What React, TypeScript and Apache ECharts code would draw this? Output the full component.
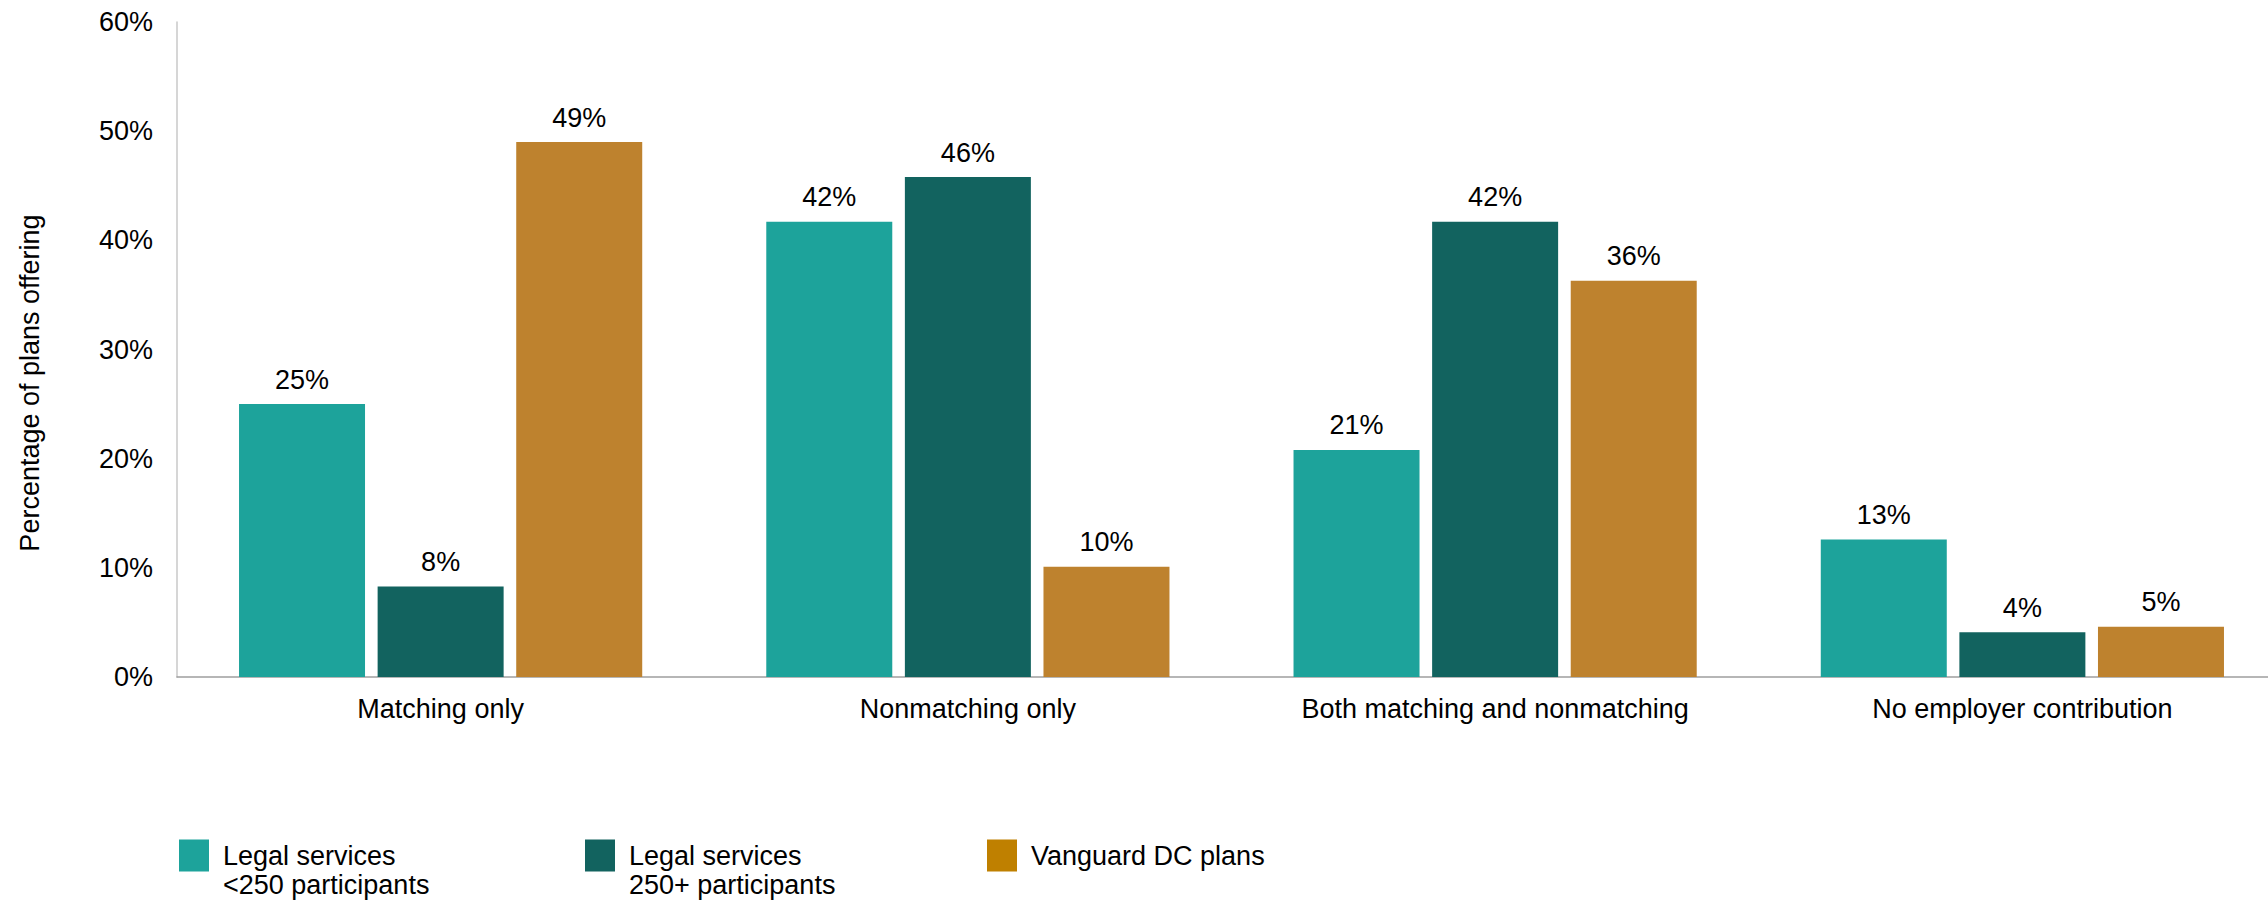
import React, { useEffect, useRef } from "react";
import * as echarts from "echarts";

const categories = [
  "Matching only",
  "Nonmatching only",
  "Both matching and nonmatching",
  "No employer contribution",
];
const seriesNames = [
  "Legal services\n<250 participants",
  "Legal services\n250+ participants",
  "Vanguard DC plans",
];
const smallLegal = [25, 41.7, 20.8, 12.6];
const largeLegal = [8.3, 45.8, 41.7, 4.1];
const vanguard = [49, 10.1, 36.3, 4.6];
const yTicks = { min: 0, max: 60, interval: 10 };
const yAxisTitle = "Percentage of plans offering";

const barColors = ["#1DA39B", "#12635F", "#BE822E"];
const legendColors = ["#1DA39B", "#12635F", "#BF8000"];
const FONT = "'Liberation Sans', Arial, sans-serif";
const FS = 27;

export default function App() {
  const ref = useRef<HTMLDivElement>(null);
  useEffect(() => {
    if (!ref.current) return;
    const chart = echarts.init(ref.current, undefined, { renderer: "svg" });
    const values = [smallLegal, largeLegal, vanguard];
    const legendLeft = [179, 585, 987];
    chart.setOption({
      animation: false,
      textStyle: { fontFamily: FONT, color: "#000" },
      grid: { left: 177, top: 22, width: 2109, bottom: 225 },
      xAxis: {
        type: "category",
        data: categories,
        axisLine: { lineStyle: { color: "#9E9E9E", width: 1.5 } },
        axisTick: { show: false },
        axisLabel: { fontSize: FS, color: "#000", fontFamily: FONT, margin: 18 },
      },
      yAxis: {
        type: "value",
        min: yTicks.min,
        max: yTicks.max,
        interval: yTicks.interval,
        axisLine: { show: true, lineStyle: { color: "#C8C8C8", width: 1.5 } },
        axisTick: { show: false },
        splitLine: { show: false },
        axisLabel: {
          fontSize: FS,
          color: "#000",
          fontFamily: FONT,
          margin: 24,
          formatter: "{value}%",
        },
      },
      legend: seriesNames.map((name, i) => ({
        data: [{ name, itemStyle: { color: legendColors[i] } }],
        left: legendLeft[i],
        top: 812,
        padding: 0,
        itemWidth: 30,
        itemHeight: 32,
        icon: "rect",
        selectedMode: false,
        textStyle: {
          fontSize: FS,
          color: "#000",
          fontFamily: FONT,
          lineHeight: 29,
          padding: [0, 0, 0, 9],
        },
        formatter: (n: string) =>
          n.indexOf("\n") >= 0 ? "\n" + n : "\n" + n + "\n ",
      })),
      graphic: [
        {
          type: "text",
          x: 30,
          y: 383,
          rotation: Math.PI / 2,
          style: {
            text: yAxisTitle,
            fontSize: FS,
            fontFamily: FONT,
            fill: "#000",
            align: "center",
            verticalAlign: "middle",
          },
        },
      ],
      series: seriesNames.map((name, i) => ({
        name,
        type: "bar",
        data: values[i],
        barWidth: 126,
        barGap: "10%",
        itemStyle: { color: barColors[i] },
        label: {
          show: true,
          position: "top",
          distance: 11,
          fontSize: FS,
          color: "#000",
          fontFamily: FONT,
          formatter: (p: any) => Math.round(p.value) + "%",
        },
      })),
    });
    return () => chart.dispose();
  }, []);
  return (
    <div
      style={{
        position: "absolute",
        left: 0,
        top: 0,
        width: 2268,
        height: 902,
        overflow: "hidden",
        background: "#fff",
      }}
    >
      <div ref={ref} style={{ width: 2290, height: 902 }} />
    </div>
  );
}
